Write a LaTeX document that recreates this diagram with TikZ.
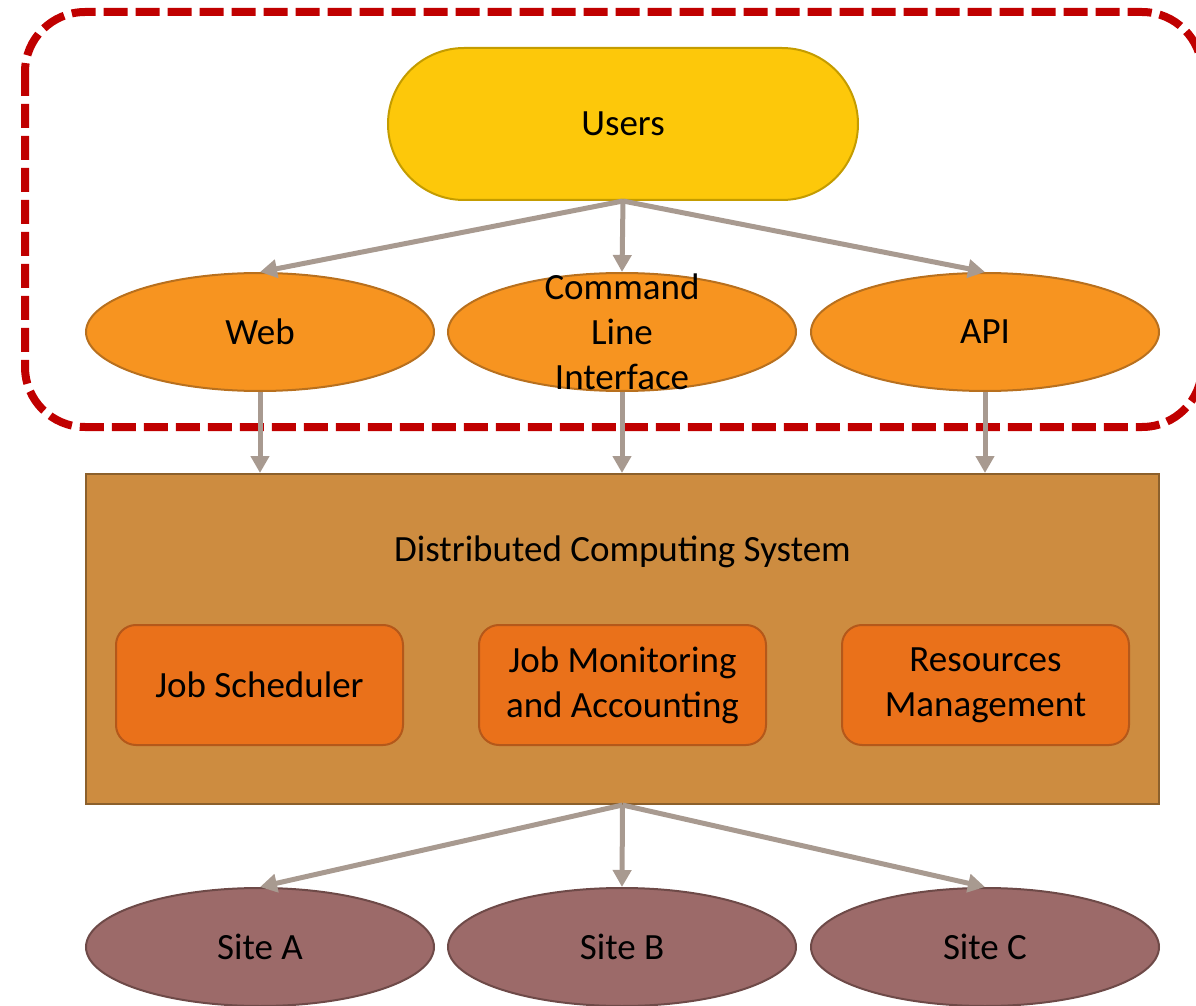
\documentclass[tikz,border=0pt]{standalone}
\usepackage{fontspec}
\setmainfont{Carlito}
\usetikzlibrary{arrows.meta, shapes.geometric}

\definecolor{usersfill}{RGB}{253,200,10}
\definecolor{usersline}{RGB}{196,156,0}
\definecolor{accessfill}{RGB}{247,148,32}
\definecolor{accessline}{RGB}{184,112,30}
\definecolor{dcsfill}{RGB}{205,140,64}
\definecolor{dcsline}{RGB}{140,96,44}
\definecolor{partfill}{RGB}{234,113,26}
\definecolor{partline}{RGB}{180,88,26}
\definecolor{sitefill}{RGB}{156,106,105}
\definecolor{siteline}{RGB}{110,74,72}
\definecolor{flowcol}{RGB}{168,154,144}
\definecolor{scopered}{RGB}{192,0,0}

\begin{document}
\begin{tikzpicture}[x=0.5pt, y=-0.5pt,
    every node/.style={font=\fontsize{18.5}{22.5}\selectfont, text=black},
    usersbox/.style={draw=usersline, fill=usersfill, line width=1pt,
        rounded corners=38pt, minimum width=235pt, minimum height=76pt},
    access/.style={ellipse, draw=accessline, fill=accessfill, line width=1pt,
        minimum width=174pt, minimum height=59pt, inner sep=0pt},
    site/.style={access, draw=siteline, fill=sitefill},
    dcsbox/.style={draw=dcsline, fill=dcsfill, line width=1pt,
        minimum width=536.5pt, minimum height=165pt},
    partbox/.style={draw=partline, fill=partfill, line width=1pt, rounded corners=10pt,
        minimum width=143.5pt, minimum height=60pt, align=center},
    flow/.style={draw=flowcol, line width=2.5pt, -{Triangle[length=8.5pt,width=9pt]}},
    scopebox/.style={draw=scopered, line width=4pt, dash pattern=on 12pt off 4pt,
        rounded corners=30pt}
    ]
    \useasboundingbox (0,0) rectangle (1196,1006);

    % user facing part
    \draw[scopebox] (25,12) rectangle (1202,427);

    \node[usersbox] (users) at (623,124) {Users};

    \node[access] (web) at (260,332) {Web};
    \node[access, label={[align=center]center:Command\\Line\\Interface}] (cli) at (622,332) {};
    \node[access] (api) at (985,332) {API};

    % system
    \node[dcsbox] (dcs) at (622.5,639) {};
    \node (dcstitle) at (622.5,552) {Distributed Computing System};

    \node[partbox] (sched) at (259.5,685) {Job Scheduler};
    \node[partbox] (monit) at (622.5,685) {Job Monitoring\\and Accounting};
    \node[partbox] (resrc) at (985.5,685) {Resources\\Management};

    % sites
    \node[site] (sitea) at (260,947) {Site A};
    \node[site] (siteb) at (622,947) {Site B};
    \node[site] (sitec) at (985,947) {Site C};

    \draw[flow] (users.south) -- (web.north);
    \draw[flow] (users.south) -- (cli.north);
    \draw[flow] (users.south) -- (api.north);

    \draw[flow] (web.south) -- (web.south |- dcs.north);
    \draw[flow] (cli.south) -- (cli.south |- dcs.north);
    \draw[flow] (api.south) -- (api.south |- dcs.north);

    \draw[flow] (dcs.south) -- (sitea.north);
    \draw[flow] (dcs.south) -- (siteb.north);
    \draw[flow] (dcs.south) -- (sitec.north);

\end{tikzpicture}
\end{document}
